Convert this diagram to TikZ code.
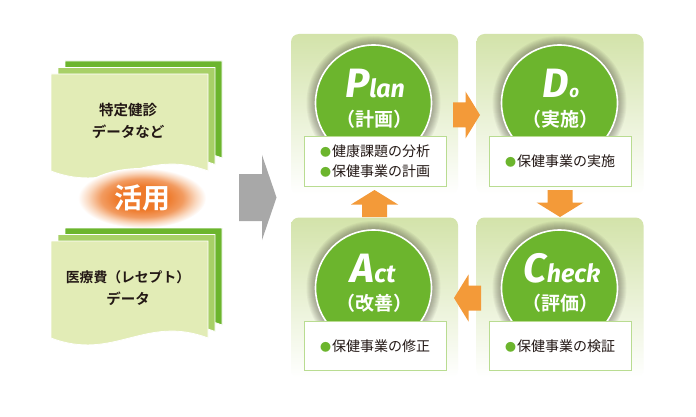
\documentclass[tikz,border=0pt]{standalone}
\usepackage{fontspec}
\usetikzlibrary{shapes.geometric}
\newfontfamily\jp{Noto Sans CJK JP}
\newfontfamily\jpb{Noto Sans CJK JP Bold}
\newfontfamily\pdca{Fira Sans}
\definecolor{leafgreen}{HTML}{6CB52D}
\definecolor{midgreen}{HTML}{A8D067}
\definecolor{palegreen}{HTML}{E2ECB6}
\definecolor{paneltop}{HTML}{D3E3AA}
\definecolor{boxline}{HTML}{B9DC91}
\definecolor{arroworange}{HTML}{F39A39}
\definecolor{greyarrow}{HTML}{A8A8A8}
\definecolor{inktext}{HTML}{231815}
\definecolor{glowcore}{HTML}{EE7A2B}
\definecolor{glowmid}{HTML}{F29B60}
\definecolor{glowlight}{HTML}{FAD8BF}
\pgfdeclareradialshading{glow}{\pgfpoint{0bp}{0bp}}{color(0bp)=(glowcore); color(10bp)=(glowcore); color(16bp)=(glowmid); color(21bp)=(glowlight); color(25bp)=(white); color(50bp)=(white)}
\newcommand\pdcaword[3]{{\pdca\bfseries\itshape\fontsize{41}{41}\selectfont #1}{\pdca\bfseries\itshape\fontsize{#3}{#3}\selectfont #2}}
\newcommand\docsheet[3]{%
  \filldraw[fill=#3,draw=white,line width=0.8pt] (#1,#2) -- ({#1+157},#2) -- ({#1+157},{#2+97})
    .. controls ({#1+94},{#2+73}) and ({#1+63},{#2+121}) .. (#1,{#2+97}) -- cycle;}
\newcommand\bul{{\color{leafgreen}\fontsize{11}{11}\selectfont ●}\hspace{1pt}}
\begin{document}
\begin{tikzpicture}[x=1pt,y=-1pt,
  panel/.style={rectangle, rounded corners=8pt, minimum width=167pt, minimum height=160pt,
    top color=paneltop, bottom color=white, draw=none, inner sep=0pt},
  pdcacirc/.style={circle, fill=leafgreen, draw=white, line width=1.6pt, minimum size=116pt, inner sep=0pt},
  infobox/.style={rectangle, fill=white, draw=boxline, line width=1pt, minimum width=142pt,
    minimum height=49pt, inner sep=0pt, text=inktext, align=left, font=\jp\fontsize{14}{20}\selectfont},
  titletext/.style={anchor=base, text=white, inner sep=0pt},
  subtext/.style={text=white, inner sep=0pt, font=\jpb\fontsize{19}{19}\selectfont},
  doctext/.style={text=inktext, inner sep=0pt, font=\jpb\fontsize{14.5}{14.5}\selectfont},
  orangearrow/.pic={\fill[arroworange] (0,-12.5) -- (12.5,-12.5) -- (12.5,-23.5) -- (27,0)
    -- (12.5,23.5) -- (12.5,12.5) -- (0,12.5) -- cycle;}
]
\useasboundingbox (0,0) rectangle (696,417);
\fill[white] (0,0) rectangle (696,417);

% documents
\docsheet{65}{61}{leafgreen}
\docsheet{58}{67.5}{midgreen}
\docsheet{51}{74}{palegreen}
\docsheet{65}{228}{leafgreen}
\docsheet{58}{234.5}{midgreen}
\docsheet{51}{241}{palegreen}
\node[doctext] (d1a) at (128,110) {特定健診};
\node[doctext] (d1b) at (128,132) {データなど};
\node[doctext, font=\jpb\fontsize{13.8}{13.8}\selectfont] (d2a) at (128,277) {医療費（レセプト）};
\node[doctext] (d2b) at (128,299) {データ};

% glow ellipse
\node[ellipse, minimum width=128pt, minimum height=60pt, shading=glow, draw=none,
  text=white, font=\jpb\fontsize{28}{28}\selectfont] (katsuyo) at (142,198) {活用};

% grey arrow
\fill[greyarrow] (239,174) -- (262,174) -- (262,155) -- (276.5,197.5) -- (262,240) -- (262,221) -- (239,221) -- cycle;

% panels
\node[panel] (planP) at (374.5,114) {};
\node[panel] (doP) at (560,114) {};
\node[panel] (actP) at (374.5,297.5) {};
\node[panel] (checkP) at (560,297.5) {};

% circle shadows
\foreach \c in {(373.5,103),(559.5,103),(373.5,288),(559.5,288)}{
  \foreach \k in {1,...,9}{
    \fill[black!80!olive, fill opacity=0.05] \c circle[radius={58+\k}];
  }
}
\node[pdcacirc] (planC) at (373.5,103) {};
\node[pdcacirc] (doC) at (559.5,103) {};
\node[pdcacirc] (actC) at (373.5,288) {};
\node[pdcacirc] (checkC) at (559.5,288) {};

\node[titletext] (planT) at (375,98) {\pdcaword{P}{lan}{25}};
\node[titletext] (doT) at (561,98) {\pdcaword{D}{o}{17}};
\node[titletext] (actT) at (373,282) {\pdcaword{A}{ct}{25}};
\node[titletext] (checkT) at (562,282) {\pdcaword{C}{heck}{25}};
\node[subtext] (planS) at (374,119) {（計画）};
\node[subtext] (doS) at (560,119) {（実施）};
\node[subtext] (actS) at (374,303) {（改善）};
\node[subtext] (checkS) at (560,303) {（評価）};

% info boxes
\node[infobox] (planB) at (375,161.5) {\bul 健康課題の分析\\\bul 保健事業の計画};
\node[infobox] (doB) at (560,161.5) {\bul 保健事業の実施};
\node[infobox] (actB) at (375,346) {\bul 保健事業の修正};
\node[infobox] (checkB) at (560,346) {\bul 保健事業の検証};

% cycle arrows
\pic at (453,115) {orangearrow};
\pic[rotate=-90] at (560,190) {orangearrow};
\pic[rotate=180] at (481,298) {orangearrow};
\pic[rotate=90] at (374.5,217) {orangearrow};
\end{tikzpicture}
\end{document}
